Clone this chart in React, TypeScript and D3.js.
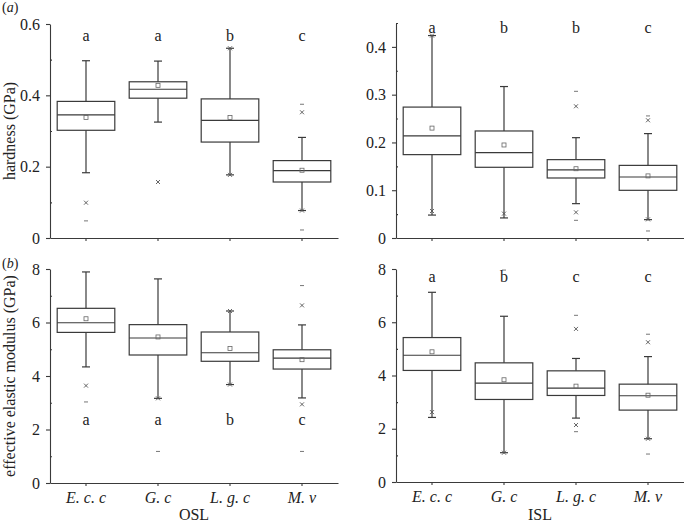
import React, { useEffect, useRef } from 'react';
import * as d3 from 'd3';

const categories = ['E. c. c', 'G. c', 'L. g. c', 'M. v'];

// each row: [whisker low, q1, median, q3, whisker high, mean]
const hardnessOSL = [
  [0.183, 0.302, 0.345, 0.383, 0.497, 0.338],
  [0.325, 0.392, 0.417, 0.438, 0.496, 0.428],
  [0.177, 0.269, 0.33, 0.39, 0.532, 0.338],
  [0.077, 0.157, 0.189, 0.217, 0.282, 0.19],
];
const hardnessOSLCross = [[0.099], [0.157], [0.532, 0.177], [0.3525, 0.077]];
const hardnessOSLDash = [[0.048], [], [], [0.375, 0.0225]];
const hardnessOSLLetters = ['a', 'a', 'b', 'c'];

const hardnessISL = [
  [0.048, 0.1745, 0.2136, 0.274, 0.4237, 0.23],
  [0.042, 0.148, 0.1787, 0.224, 0.317, 0.1947],
  [0.0719, 0.1256, 0.1424, 0.164, 0.21, 0.145],
  [0.0384, 0.0998, 0.1277, 0.152, 0.2185, 0.13],
];
const hardnessISLCross = [[0.0565, 0.4237], [0.051], [0.2757, 0.0537], [0.2464, 0.039]];
const hardnessISLDash = [[], [], [0.307, 0.037], [0.2555, 0.0147]];
const hardnessISLLetters = ['a', 'b', 'b', 'c'];

const modulusOSL = [
  [4.34, 5.63, 5.99, 6.53, 7.89, 6.14],
  [3.165, 4.785, 5.42, 5.92, 7.63, 5.46],
  [3.68, 4.55, 4.87, 5.645, 6.43, 5.03],
  [3.18, 4.26, 4.67, 4.98, 5.91, 4.61],
];
const modulusOSLCross = [[3.64], [3.165], [6.43, 3.68], [6.64, 2.94]];
const modulusOSLDash = [[3.03], [1.18], [], [7.38, 1.18]];
const modulusOSLLetters = ['a', 'a', 'b', 'c'];

const modulusISL = [
  [2.425, 4.19, 4.76, 5.425, 7.125, 4.89],
  [1.1, 3.1, 3.71, 4.475, 6.225, 3.84],
  [2.4, 3.25, 3.525, 4.175, 4.64, 3.6],
  [1.625, 2.7, 3.24, 3.675, 4.71, 3.26],
];
const modulusISLCross = [[2.625], [1.1], [5.75, 2.14], [5.25, 1.625]];
const modulusISLDash = [[], [7.96], [6.26, 1.89], [5.55, 1.05]];
const modulusISLLetters = ['a', 'b', 'c', 'c'];

const hardnessOSLTicks = [0, 0.2, 0.4, 0.6];
const hardnessOSLMinor = [0.1, 0.3, 0.5];
const hardnessISLTicks = [0, 0.1, 0.2, 0.3, 0.4];
const hardnessISLMinor = [0.05, 0.15, 0.25, 0.35, 0.45];
const modulusTicks = [0, 2, 4, 6, 8];
const modulusMinor = [1, 3, 5, 7];

const FONT = 'Liberation Serif, Times New Roman, Times, serif';
const INK = '#3a3a3a';

const fmtTenth = (d: number) => (d === 0 ? '0' : d3.format('.1f')(d));
const fmtInt = (d: number) => String(d);

const panels = [
  { stats: hardnessOSL, cross: hardnessOSLCross, dash: hardnessOSLDash, letters: hardnessOSLLetters,
    letterAt: 0.552, domain: [0, 0.6], ticks: hardnessOSLTicks, minor: hardnessOSLMinor, fmt: fmtTenth,
    left: 50, top: 24, bottom: 238, xLabels: false, title: 'hardness (GPa)', group: '' },
  { stats: hardnessISL, cross: hardnessISLCross, dash: hardnessISLDash, letters: hardnessISLLetters,
    letterAt: 0.429, domain: [0, 0.45], ticks: hardnessISLTicks, minor: hardnessISLMinor, fmt: fmtTenth,
    left: 396, top: 23, bottom: 238, xLabels: false, title: '', group: '' },
  { stats: modulusOSL, cross: modulusOSLCross, dash: modulusOSLDash, letters: modulusOSLLetters,
    letterAt: 2.17, domain: [0, 8], ticks: modulusTicks, minor: modulusMinor, fmt: fmtInt,
    left: 50, top: 269, bottom: 483, xLabels: true, title: 'effective elastic modulus (GPa)', group: 'OSL' },
  { stats: modulusISL, cross: modulusISLCross, dash: modulusISLDash, letters: modulusISLLetters,
    letterAt: 7.52, domain: [0, 8], ticks: modulusTicks, minor: modulusMinor, fmt: fmtInt,
    left: 396, top: 269, bottom: 482, xLabels: true, title: '', group: 'ISL' },
];

const App = () => {
  const ref = useRef<SVGSVGElement>(null);

  useEffect(() => {
    const svg = d3.select(ref.current);
    svg.selectAll('*').remove();

    panels.forEach((p) => {
      const x = d3.scaleBand().domain(categories).range([p.left, p.left + 288]);
      const y = d3.scaleLinear().domain(p.domain).range([p.bottom, p.top]);
      const g = svg.append('g');

      const styleAxis = (sel: any) => {
        sel.attr('font-family', FONT).attr('font-size', 16);
        sel.selectAll('path, line').attr('stroke', INK).attr('stroke-width', 1.1);
        sel.selectAll('text').attr('fill', '#222');
      };

      g.append('g')
        .attr('transform', `translate(${p.left},0)`)
        .call(d3.axisLeft(y).tickValues(p.ticks).tickSize(4).tickPadding(6).tickSizeOuter(0).tickFormat(p.fmt as any))
        .call(styleAxis);

      // minor ticks point inward
      g.append('g')
        .attr('transform', `translate(${p.left},0)`)
        .call(d3.axisRight(y).tickValues(p.minor).tickSize(2).tickSizeOuter(0).tickFormat(() => ''))
        .call(styleAxis)
        .select('.domain').remove();

      const xAxis = g.append('g')
        .attr('transform', `translate(0,${p.bottom})`)
        .call(d3.axisBottom(x).tickSize(3).tickPadding(6).tickSizeOuter(0)
          .tickFormat(p.xLabels ? (d: string) => d : () => ''))
        .call(styleAxis);
      xAxis.selectAll('text').attr('font-style', 'italic');

      const bw = x.bandwidth() * 0.8;
      p.stats.forEach((s, i) => {
        const cx = (x(categories[i]) as number) + x.bandwidth() / 2;
        const [lo, q1, med, q3, hi, mean] = s;
        const b = g.append('g').attr('stroke', INK).attr('stroke-width', 1.2).attr('fill', 'none');

        b.append('line').attr('x1', cx).attr('x2', cx).attr('y1', y(hi)).attr('y2', y(q3));
        b.append('line').attr('x1', cx).attr('x2', cx).attr('y1', y(q1)).attr('y2', y(lo));
        [hi, lo].forEach((v) => {
          b.append('line').attr('x1', cx - 4).attr('x2', cx + 4).attr('y1', y(v)).attr('y2', y(v));
        });
        b.append('rect')
          .attr('x', cx - bw / 2).attr('y', y(q3))
          .attr('width', bw).attr('height', y(q1) - y(q3));
        b.append('line').attr('x1', cx - bw / 2).attr('x2', cx + bw / 2).attr('y1', y(med)).attr('y2', y(med));

        b.append('rect')
          .attr('x', cx - 2).attr('y', y(mean) - 2)
          .attr('width', 4).attr('height', 4)
          .attr('stroke', '#666').attr('stroke-width', 0.8);

        p.cross[i].forEach((v) => {
          const cy = y(v);
          b.append('path')
            .attr('d', `M${cx - 2},${cy - 2}L${cx + 2},${cy + 2}M${cx - 2},${cy + 2}L${cx + 2},${cy - 2}`)
            .attr('stroke', '#555').attr('stroke-width', 0.9);
        });
        p.dash[i].forEach((v) => {
          b.append('line')
            .attr('x1', cx - 2).attr('x2', cx + 2).attr('y1', y(v)).attr('y2', y(v))
            .attr('stroke', '#666').attr('stroke-width', 0.9);
        });

        g.append('text')
          .attr('x', cx).attr('y', y(p.letterAt))
          .attr('text-anchor', 'middle')
          .attr('font-family', FONT).attr('font-size', 16).attr('fill', '#222')
          .text(p.letters[i]);
      });

      if (p.title) {
        g.append('text')
          .attr('transform', `translate(15,${(p.top + p.bottom) / 2}) rotate(-90)`)
          .attr('text-anchor', 'middle')
          .attr('font-family', FONT).attr('font-size', 16).attr('fill', '#222')
          .text(p.title);
      }
      if (p.group) {
        g.append('text')
          .attr('x', p.left + 144).attr('y', 520)
          .attr('text-anchor', 'middle')
          .attr('font-family', FONT).attr('font-size', 16).attr('fill', '#222')
          .text(p.group);
      }
    });

    [['a', 12], ['b', 268]].forEach(([l, yy]) => {
      const t = svg.append('text')
        .attr('x', 2).attr('y', yy as number)
        .attr('font-family', FONT).attr('font-size', 14).attr('fill', '#222');
      t.append('tspan').text('(');
      t.append('tspan').attr('font-style', 'italic').text(l as string);
      t.append('tspan').text(')');
    });
  }, []);

  return (
    <svg
      ref={ref}
      width={684}
      height={524}
      style={{ position: 'absolute', left: 0, top: 0, background: '#fff' }}
    />
  );
};

export default App;
